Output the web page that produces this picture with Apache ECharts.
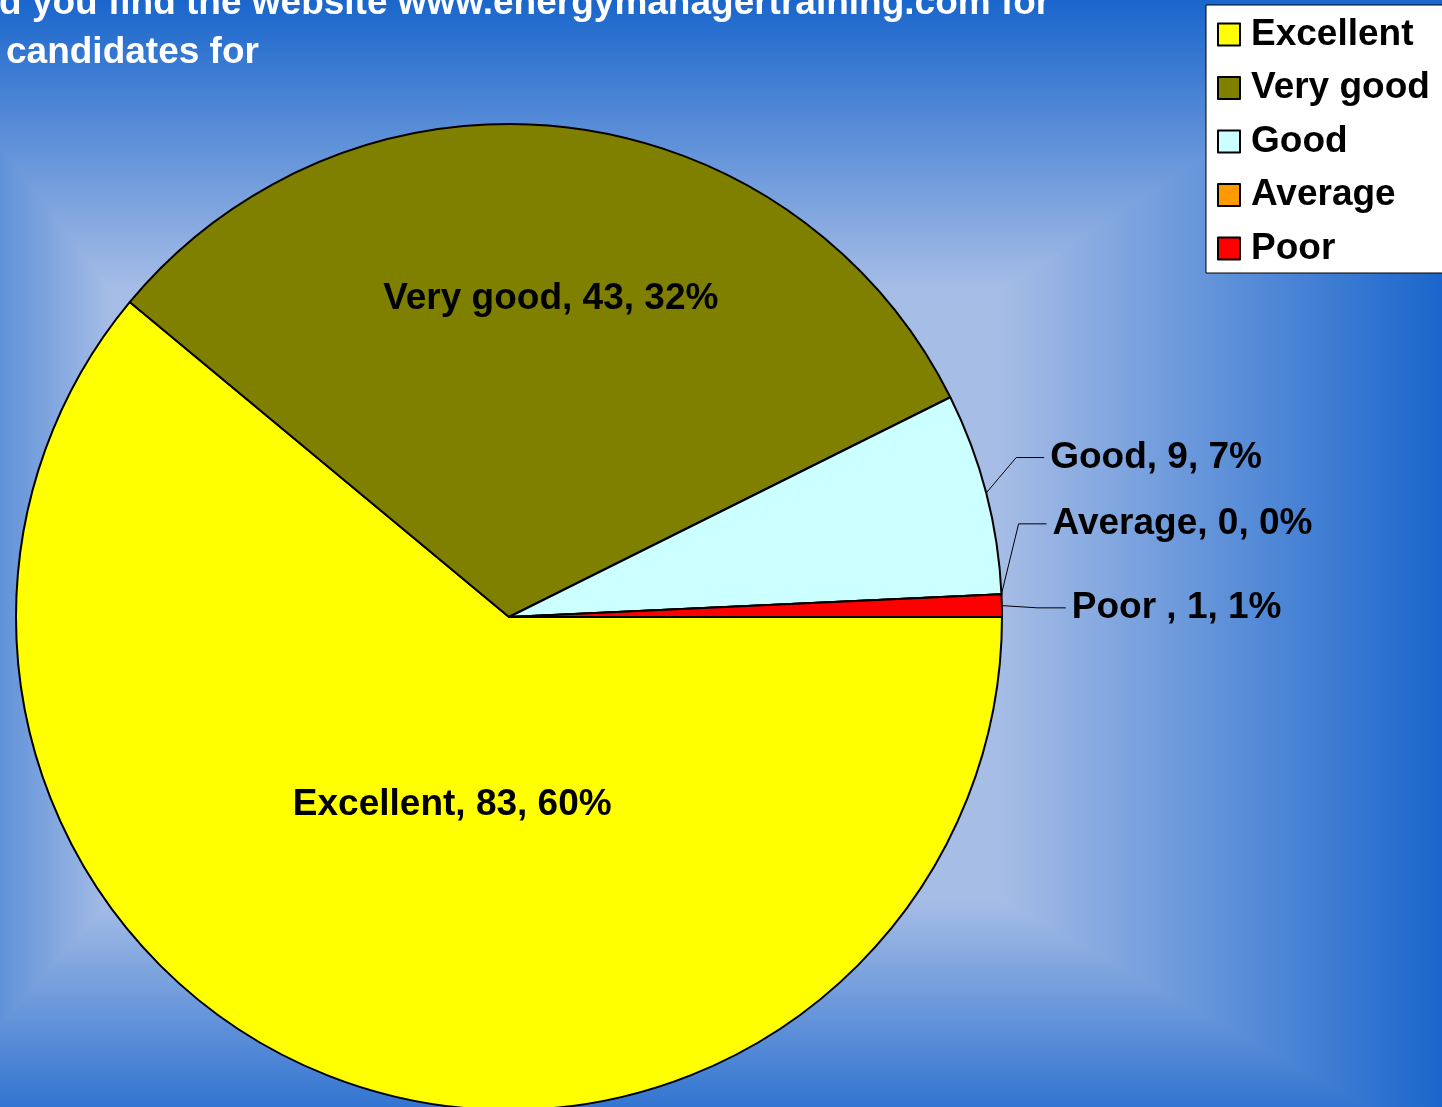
<!DOCTYPE html>
<html>
<head>
<meta charset="utf-8">
<title>pie</title>
<script src="https://cdn.jsdelivr.net/npm/echarts@6/dist/echarts.min.js"></script>
<style>
  html, body { margin: 0; padding: 0; }
  #chart { width: 1442px; height: 1107px; }
</style>
</head>
<body>
<div id="chart"></div>
<script>
var categories = ["Excellent", "Very good", "Good", "Average", "Poor "];
var counts = [83, 43, 9, 0, 1];
var percents = [60, 32, 7, 0, 1];
var colors = ["#ffff00", "#808000", "#ccffff", "#ff9900", "#ff0000"];
var titleLines = ["d you find the website www.energymanagertraining.com for", "candidates for"];

var LIGHT = "#a6bde6";
var DARK = "#1a66cc";
var FONT = "'Liberation Sans', Arial, sans-serif";

// rectangle style background gradient (outer -> inner)
var outer = { x1: -110, y1: 0, x2: 1442, y2: 1150 };
var inner = { x1: 110, y1: 290, x2: 1000, y2: 900 };

function grad(x, y, x2, y2) {
  return {
    type: "linear", x: x, y: y, x2: x2, y2: y2, global: true,
    colorStops: [{ offset: 0, color: DARK }, { offset: 1, color: LIGHT }]
  };
}

function band(points, g) {
  return { type: "polygon", shape: { points: points }, style: { fill: g, stroke: g, lineWidth: 2 } };
}

var bg = [
  { type: "rect", shape: { x: 0, y: 0, width: 1442, height: 1107 }, style: { fill: LIGHT } },
  band([[outer.x1, outer.y1], [outer.x2, outer.y1], [inner.x2, inner.y1], [inner.x1, inner.y1]], grad(0, outer.y1, 0, inner.y1)),
  band([[outer.x2, outer.y1], [outer.x2, outer.y2], [inner.x2, inner.y2], [inner.x2, inner.y1]], grad(outer.x2, 0, inner.x2, 0)),
  band([[outer.x2, outer.y2], [outer.x1, outer.y2], [inner.x1, inner.y2], [inner.x2, inner.y2]], grad(0, outer.y2, 0, inner.y2)),
  band([[outer.x1, outer.y2], [outer.x1, outer.y1], [inner.x1, inner.y1], [inner.x1, inner.y2]], grad(outer.x1, 0, inner.x1, 0))
];
bg.forEach(function (g) { g.silent = true; g.z = -10; });

var pieData = categories.map(function (name, i) {
  return { name: name, value: counts[i], itemStyle: { color: colors[i] } };
});

// label nudges, to sit where the original placed them
var labelShift = [[28, -47], [13, -70], [0, -28], [-9, -69], [10, -24]];

var chart = echarts.init(document.getElementById("chart"));
chart.setOption({
  backgroundColor: DARK,
  graphic: bg,
  title: [
    { text: titleLines[0], left: -1, top: -15, padding: 0,
      textStyle: { color: "#fff", fontSize: 37, fontWeight: "bold", fontFamily: FONT } },
    { text: titleLines[1], left: 6, top: 34, padding: 0,
      textStyle: { color: "#fff", fontSize: 37, fontWeight: "bold", fontFamily: FONT } }
  ],
  legend: {
    orient: "vertical",
    left: 1206,
    top: 5,
    backgroundColor: "#fff",
    borderColor: "#000",
    borderWidth: 1,
    borderRadius: 0,
    padding: [11, 20, 6, 11],
    itemGap: 16.5,
    itemWidth: 22,
    itemHeight: 22,
    icon: "rect",
    itemStyle: { borderColor: "#000", borderWidth: 2 },
    textStyle: { color: "#000", fontSize: 37, fontWeight: "bold", fontFamily: FONT, padding: [0, 0, 0, 6] },
    formatter: function (name) { return name.trim(); },
    data: categories
  },
  series: [
    {
      type: "pie",
      center: [509, 617],
      radius: 493,
      startAngle: 0,
      clockwise: true,
      animation: false,
      itemStyle: { borderColor: "#000", borderWidth: 2 },
      label: {
        color: "#000",
        fontSize: 37,
        fontWeight: "bold",
        fontFamily: FONT,
        formatter: function (p) {
          return p.name + ", " + p.value + ", " + percents[p.dataIndex] + "%";
        }
      },
      labelLine: { length: 30, length2: 30, lineStyle: { color: "#000", width: 1 } },
      data: pieData.map(function (d, i) {
        if (i < 2) {
          d.label = { position: "inside" };
          d.labelLine = { show: false };
        }
        return d;
      }),
      labelLayout: function (p) {
        var s = labelShift[p.dataIndex];
        var out = { dx: s[0], dy: s[1] };
        if (p.labelLinePoints) {
          var r = p.labelRect;
          var tx = r.x + s[0];
          var ty = r.y + s[1] + r.height / 2;
          out.labelLinePoints = [p.labelLinePoints[0], [tx - 34, ty], [tx - 6, ty]];
        }
        return out;
      }
    }
  ]
});
</script>
</body>
</html>
